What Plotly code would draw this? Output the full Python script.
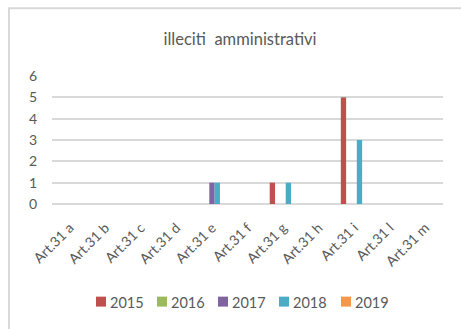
import plotly.graph_objects as go

categories = ["Art.31 a", "Art.31 b", "Art.31 c", "Art.31 d", "Art.31 e", "Art.31 f",
              "Art.31 g", "Art.31 h", "Art.31 i", "Art.31 l", "Art.31 m"]
years = ["2015", "2016", "2017", "2018", "2019"]
v2015 = [0, 0, 0, 0, 0, 0, 1, 0, 5, 0, 0]
v2016 = [0, 0, 0, 0, 0, 0, 0, 0, 0, 0, 0]
v2017 = [0, 0, 0, 0, 1, 0, 0, 0, 0, 0, 0]
v2018 = [0, 0, 0, 0, 1, 0, 1, 0, 3, 0, 0]
v2019 = [0, 0, 0, 0, 0, 0, 0, 0, 0, 0, 0]
series = [v2015, v2016, v2017, v2018, v2019]
colors = ["#C0504D", "#9BBB59", "#8064A2", "#4BACC6", "#F79646"]
y_ticks = [0, 1, 2, 3, 4, 5, 6]

W, H = 461, 329
L, R, T, B = 52, 18, 75.5, 125
pw, ph = W - L - R, H - T - B

def px_x(x):
    return (x - L) / pw

def px_y(y):
    return (H - B - y) / ph

FONT = "Lato, Carlito, Calibri, sans-serif"
TXT = "#595959"

fig = go.Figure()
for name, vals, col in zip(years, series, colors):
    fig.add_trace(go.Bar(x=categories, y=vals, name=name, marker_color=col,
                         marker_line_width=0, showlegend=False))

# chart-area frame
fig.add_shape(type="rect", xref="paper", yref="paper",
              x0=px_x(9), x1=px_x(475), y0=px_y(7.5), y1=px_y(345),
              line=dict(color="#D9D9D9", width=2), fillcolor="rgba(0,0,0,0)", layer="below")

# legend: swatch + label per series
lx = [96, 157, 218, 279, 341]
for x0, name, col in zip(lx, years, colors):
    fig.add_shape(type="rect", xref="paper", yref="paper",
                  x0=px_x(x0), x1=px_x(x0 + 10), y0=px_y(307), y1=px_y(297),
                  line=dict(width=0), fillcolor=col)
    fig.add_annotation(text=name, xref="paper", yref="paper",
                       x=px_x(x0 + 11.5), y=px_y(302.5), xanchor="left", yanchor="middle",
                       showarrow=False, font=dict(family=FONT, size=14.5, color=TXT))

fig.update_layout(
    width=W, height=H,
    margin=dict(l=L, r=R, t=T, b=B),
    paper_bgcolor="white", plot_bgcolor="white",
    barmode="group", bargap=0.25, bargroupgap=0,
    font=dict(family=FONT, color=TXT),
    title=dict(text="illeciti  amministrativi", x=240 / W,
               xanchor="center", y=1 - 39.5 / H, yanchor="middle",
               font=dict(family=FONT, size=16.5, color=TXT)),
    showlegend=False,
)
fig.update_xaxes(type="category", tickangle=-45, showgrid=False, showline=False,
                 ticks="", tickfont=dict(family=FONT, size=14, color=TXT),
                 ticklabelstandoff=12)
fig.update_yaxes(range=[0, 6], tickvals=y_ticks, showgrid=True, gridcolor="#D9D9D9",
                 gridwidth=1.5, zeroline=True, zerolinecolor="#D9D9D9", zerolinewidth=1.5,
                 showline=False, ticks="", tickfont=dict(family=FONT, size=14, color=TXT),
                 ticklabelstandoff=14)

fig.write_html("out.html")
